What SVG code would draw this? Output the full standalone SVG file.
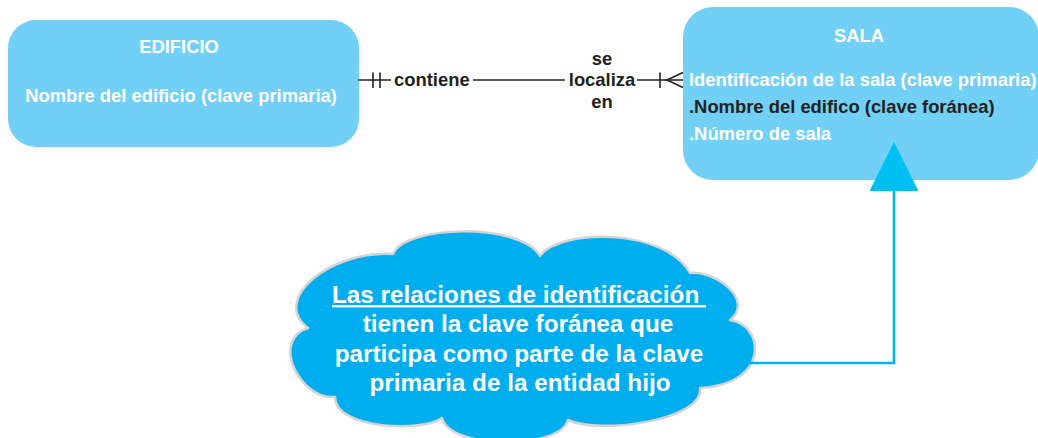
<svg xmlns="http://www.w3.org/2000/svg" width="1038" height="438" viewBox="0 0 1038 438">
<style>
text{font-family:"Liberation Sans",Arial,Helvetica,sans-serif;font-weight:bold}
.box{fill:#72cff5}
.t{font-size:18.4px;fill:#ffffff}
.dk{fill:#231f20}
.rel{stroke:#231f20;stroke-width:1.6;fill:none}
.cl{font-size:24.3px;fill:#ffffff}
.blue{stroke:#00b4ef;stroke-width:2.6;fill:none}
</style>
<defs>
<marker id="tri" markerUnits="userSpaceOnUse" markerWidth="49" markerHeight="49" viewBox="0 0 49 49" refX="0" refY="24.5" orient="auto">
<path d="M0,0 L49,24.5 L0,49 Z" fill="#00bff3"/>
</marker>
</defs>
<g id="edificio">
<rect class="box" x="8" y="20" width="351" height="127" rx="28" ry="28"/>
<text class="t" x="179" y="53" text-anchor="middle">EDIFICIO</text>
<text class="t" x="181" y="101.5" text-anchor="middle">Nombre del edificio (clave primaria)</text>
</g>
<g id="sala">
<rect class="box" x="683" y="7" width="356" height="173" rx="30" ry="30"/>
<text class="t" x="859" y="41.5" text-anchor="middle">SALA</text>
<text class="t" x="689" y="86">Identificación de la sala (clave primaria)</text>
<text class="t dk" x="689" y="113">.Nombre del edifico (clave foránea)</text>
<text class="t" x="689" y="140">.Número de sala</text>
</g>
<g id="nota">
<path d="M308,328 C270,300 330,250 393,254 C405,225 520,222 540,256 C560,228 665,228 690,273 C715,270 755,300 730,320 C765,325 770,385 700,388 C705,420 600,435 568,420 C560,450 450,450 442,418 C425,432 335,430 335,397 C300,400 270,340 308,328 Z" fill="#00aeef" stroke="#d4d4d4" stroke-width="2.5" stroke-linejoin="round"/>
<text class="cl" x="332" y="303" text-decoration="underline" xml:space="preserve">Las relaciones de identificación </text>
<text class="cl" x="518" y="332" text-anchor="middle">tienen la clave foránea que</text>
<text class="cl" x="519" y="362" text-anchor="middle">participa como parte de la clave</text>
<text class="cl" x="520" y="391" text-anchor="middle">primaria de la entidad hijo</text>
</g>
<g id="connectors">
<g id="rel-contiene">
<line class="rel" x1="358" y1="80" x2="391" y2="80"/>
<line class="rel" x1="473" y1="80" x2="565" y2="80"/>
<line class="rel" x1="637" y1="80" x2="683" y2="80"/>
<line class="rel" x1="373" y1="72.5" x2="373" y2="88"/>
<line class="rel" x1="380" y1="72.5" x2="380" y2="88"/>
<line class="rel" x1="660" y1="72.5" x2="660" y2="88"/>
<polyline class="rel" points="683,72.5 667,80 683,87.5"/>
<text class="t dk" x="394" y="86">contiene</text>
<text class="t dk" x="602" y="65" text-anchor="middle">se</text>
<text class="t dk" x="602" y="86" text-anchor="middle">localiza</text>
<text class="t dk" x="602" y="108" text-anchor="middle">en</text>
</g>
<path id="note-link" class="blue" d="M745,363 H894 V191" marker-end="url(#tri)"/>
</g>
</svg>
